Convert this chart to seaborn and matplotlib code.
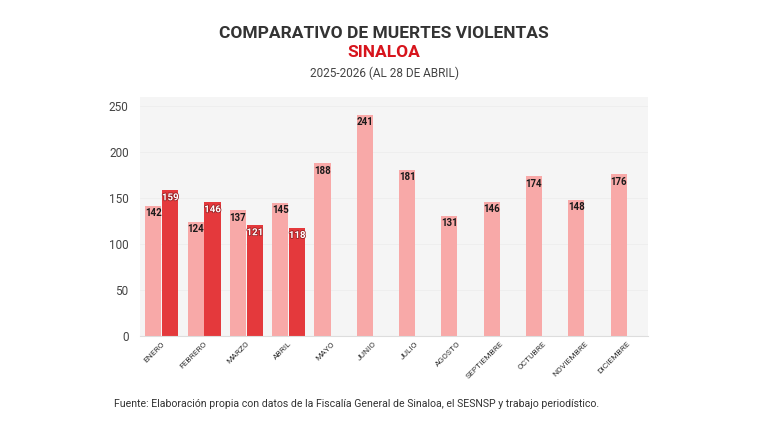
import pandas as pd
import numpy as np
import matplotlib.pyplot as plt
import matplotlib.patheffects as pe
import seaborn as sns

# Data
months = ["ENERO", "FEBRERO", "MARZO", "ABRIL", "MAYO", "JUNIO", "JULIO",
          "AGOSTO", "SEPTIEMBRE", "OCTUBRE", "NOVIEMBRE", "DICIEMBRE"]
deaths_2025 = [142, 124, 137, 145, 188, 241, 181, 131, 146, 174, 148, 176]
deaths_2026 = [159, 146, 121, 118, None, None, None, None, None, None, None, None]
years = ["2025", "2026"]

LIGHT = "#f8a9a8"
DARK = "#e4393c"

df = pd.DataFrame({
    "mes": months * 2,
    "anio": [years[0]] * 12 + [years[1]] * 12,
    "muertes": deaths_2025 + deaths_2026,
})

sns.set_theme(style="white")
plt.rcParams["font.family"] = ["Roboto", "DejaVu Sans"]

fig = plt.figure(figsize=(7.68, 4.32), dpi=100)
ax = fig.add_axes([0.182, 0.222, 0.662, 0.553])
ax.set_facecolor("#f5f5f5")

sns.barplot(data=df, x="mes", y="muertes", hue="anio", order=months,
            hue_order=years, palette=[LIGHT, DARK], saturation=1,
            width=0.8, gap=0.05, linewidth=0, legend=False, ax=ax)

# value labels just inside the top of each bar
for container, col in zip(ax.containers, ["#1a1a1a", "white"]):
    for bar in container:
        h = bar.get_height()
        if np.isnan(h) or h == 0:
            continue
        t = ax.text(bar.get_x() + bar.get_width() / 2, h - 2.5, f"{int(h)}",
                    ha="center", va="top", fontsize=7, fontweight="bold",
                    color=col)
        if col == "white":
            t.set_path_effects([pe.withStroke(linewidth=1.2, foreground="#9a2023")])

ax.set_ylim(0, 260)
ax.set_xlim(-0.52, 11.5)
ax.set_yticks([0, 50, 100, 150, 200, 250])
ax.yaxis.grid(True, color="#ededed", linewidth=0.6)
ax.set_axisbelow(True)
ax.set_xlabel("")
ax.set_ylabel("")
for s in ["top", "right", "left"]:
    ax.spines[s].set_visible(False)
ax.spines["bottom"].set_color("#dddddd")
ax.spines["bottom"].set_linewidth(0.8)
ax.tick_params(axis="y", labelsize=8.5, colors="#444444", pad=8, length=0)
ax.tick_params(axis="x", labelsize=6, colors="#333333", length=0, pad=3)
plt.setp(ax.get_xticklabels(), rotation=45, ha="right", rotation_mode="anchor")

fig.text(0.5, 0.923, "COMPARATIVO DE MUERTES VIOLENTAS", ha="center", va="center",
         fontsize=12.5, fontweight="bold", color="#333333")
fig.text(0.5, 0.879, "SINALOA", ha="center", va="center",
         fontsize=12.5, fontweight="bold", color="#d7141c")
fig.text(0.5, 0.830, "2025-2026 (AL 28 DE ABRIL)", ha="center", va="center",
         fontsize=8.5, color="#444444")
fig.text(0.149, 0.065, "Fuente: Elaboración propia con datos de la Fiscalía General de Sinaloa, "
         "el SESNSP y trabajo periodístico.", ha="left", va="center",
         fontsize=7.6, color="#333333")

fig.savefig("out.png", dpi=100, facecolor="white")
